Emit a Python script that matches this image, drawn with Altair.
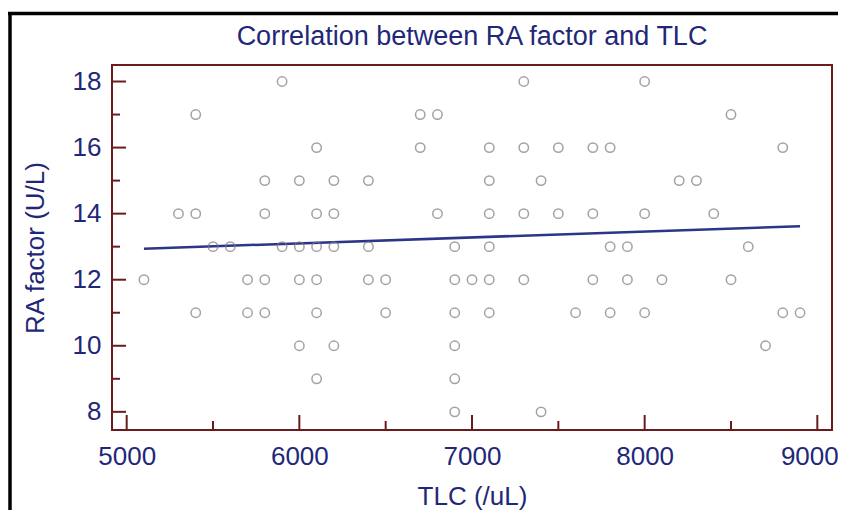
import altair as alt
import pandas as pd

# RA factor value -> list of TLC values
ra_18 = [5900, 7300, 8000]
ra_17 = [5400, 6700, 6800, 8500]
ra_16 = [6100, 6700, 7100, 7300, 7500, 7700, 7800, 8800]
ra_15 = [5800, 6000, 6200, 6400, 7100, 7400, 8200, 8300]
ra_14 = [5300, 5400, 5800, 6100, 6200, 6800, 7100, 7300, 7500, 7700, 8000, 8400]
ra_13 = [5500, 5600, 5900, 6000, 6100, 6200, 6400, 6900, 7100, 7800, 7900, 8600]
ra_12 = [5100, 5700, 5800, 6000, 6100, 6400, 6500, 6900, 7000, 7100, 7300, 7700, 7900, 8100, 8500]
ra_11 = [5400, 5700, 5800, 6100, 6500, 6900, 7100, 7600, 7800, 8000, 8800, 8900]
ra_10 = [6000, 6200, 6900, 8700]
ra_9 = [6100, 6900]
ra_8 = [6900, 7400]

groups = {18: ra_18, 17: ra_17, 16: ra_16, 15: ra_15, 14: ra_14, 13: ra_13,
          12: ra_12, 11: ra_11, 10: ra_10, 9: ra_9, 8: ra_8}

# fitted line end points
fit_x = [5100, 8900]
fit_y = [12.94, 13.62]

x_major = [5000, 6000, 7000, 8000, 9000]
x_minor = [5500, 6500, 7500, 8500]
y_major = [8, 10, 12, 14, 16, 18]
y_minor = [9, 11, 13, 15, 17]

title_text = "Correlation between RA factor and TLC"

rows = [{"TLC": x, "RA": y} for y, xs in groups.items() for x in xs]
df = pd.DataFrame(rows)
fit_df = pd.DataFrame({"TLC": fit_x, "RA": fit_y})

NAVY = "#1f2878"
MAROON = "#6a1c1c"
FONT = "Liberation Sans"
W, H = 720, 365

xscale = alt.Scale(domain=[4915, 9085], nice=False, zero=False)
yscale = alt.Scale(domain=[7.45, 18.5], nice=False, zero=False)

xaxis = alt.Axis(values=x_major, format="d", title="TLC (/uL)", labelPadding=13,
                 titlePadding=14,
                 labelOffset={"condition": {"test": "datum.value == 9000", "value": -8},
                              "value": 0})
yaxis = alt.Axis(values=y_major, format="d", title="RA factor (U/L)", labelPadding=11,
                 titlePadding=24)

points = alt.Chart(df).mark_point(shape="circle", filled=False, size=88,
                                  strokeWidth=1.5, color="#7c7c7c").encode(
    x=alt.X("TLC:Q", scale=xscale, axis=xaxis),
    y=alt.Y("RA:Q", scale=yscale, axis=yaxis),
)

line = alt.Chart(fit_df).mark_line(color="#2b3688", strokeWidth=2.5).encode(
    x=alt.X("TLC:Q", scale=xscale),
    y=alt.Y("RA:Q", scale=yscale),
)

ymaj = alt.Chart(pd.DataFrame({"v": y_major})).mark_rule(color=MAROON, strokeWidth=2).encode(
    y=alt.Y("v:Q", scale=yscale), x=alt.value(0), x2=alt.value(14))
ymin = alt.Chart(pd.DataFrame({"v": y_minor})).mark_rule(color=MAROON, strokeWidth=2).encode(
    y=alt.Y("v:Q", scale=yscale), x=alt.value(0), x2=alt.value(8))
xmaj = alt.Chart(pd.DataFrame({"v": x_major})).mark_rule(color=MAROON, strokeWidth=2).encode(
    x=alt.X("v:Q", scale=xscale), y=alt.value(H), y2=alt.value(H - 15))
xmin = alt.Chart(pd.DataFrame({"v": x_minor})).mark_rule(color=MAROON, strokeWidth=2).encode(
    x=alt.X("v:Q", scale=xscale), y=alt.value(H), y2=alt.value(H - 9))

# chart title as a text mark (kept below the outer frame)
title = alt.Chart(pd.DataFrame({"t": [title_text]})).mark_text(
    font=FONT, fontSize=27, color=NAVY, baseline="bottom", align="center").encode(
    text="t:N", x=alt.value(W / 2), y=alt.value(-14))

# outer black frame of the figure
frame_top = alt.Chart(pd.DataFrame({"a": [0]})).mark_rule(color="black", strokeWidth=3.5).encode(
    x=alt.value(-104), x2=alt.value(740), y=alt.value(-51.5))
frame_left = alt.Chart(pd.DataFrame({"a": [0]})).mark_rule(color="black", strokeWidth=3.5).encode(
    x=alt.value(-102), y=alt.value(-53), y2=alt.value(470))

chart = alt.layer(frame_top, frame_left, ymaj, ymin, xmaj, xmin, line, points, title).properties(
    width=W, height=H,
    autosize=alt.AutoSizeParams(type="none"),
    padding={"left": 104, "top": 57, "right": 6, "bottom": 80},
).configure_view(
    stroke=MAROON, strokeWidth=2
).configure_axis(
    domain=False, ticks=False, grid=False,
    labelFont=FONT, labelFontSize=26, labelColor=NAVY,
    titleFont=FONT, titleFontSize=26, titleColor=NAVY, titleFontWeight="normal",
)

chart.save("out.html", embed_options={"renderer": "svg", "actions": False})
